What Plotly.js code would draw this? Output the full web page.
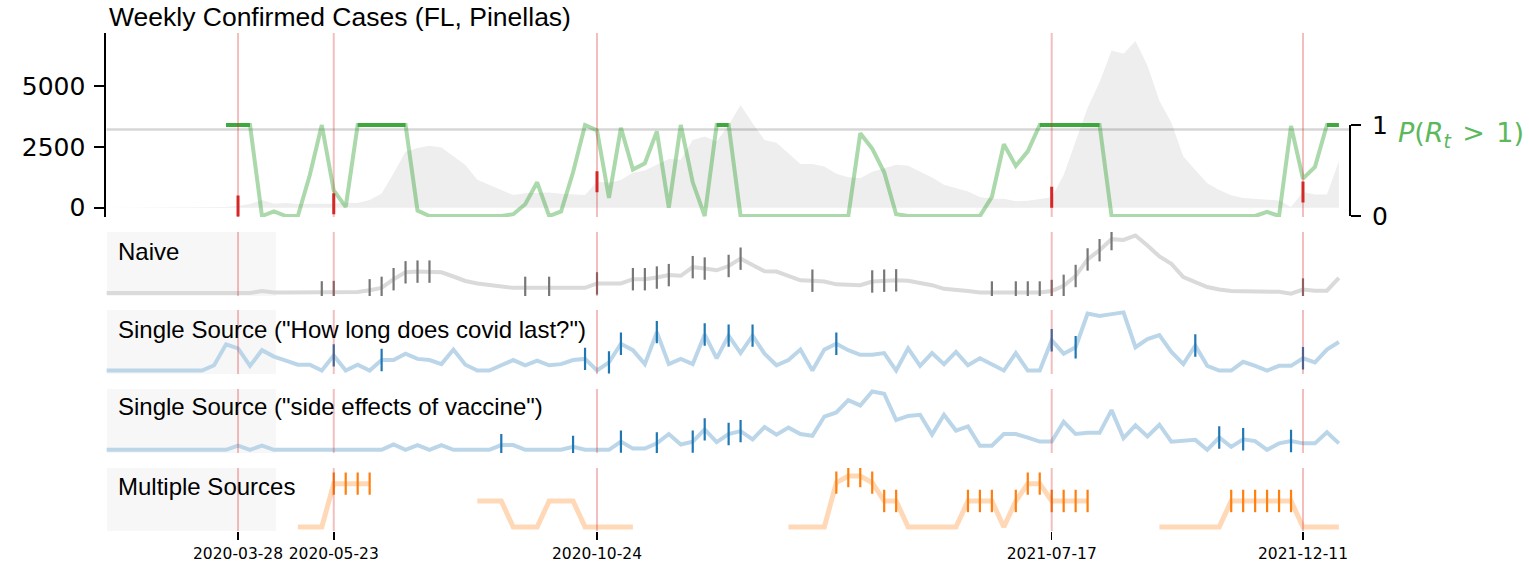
<!DOCTYPE html>
<html><head><meta charset="utf-8">
<script src="https://cdn.plot.ly/plotly-3.0.1.min.js"></script>
<style>html,body{margin:0;padding:0;background:#fff}#chart{width:1529px;height:570px}</style>
</head><body><div id="chart"></div>
<script>
// ---------- data ----------
const START = '2020-01-11';          // first weekly observation
const X_END = '2022-01-07 12:00';    // right end of the time axis
const N_WEEKS = 104;
const eventDates = ['2020-03-28','2020-05-23','2020-10-24','2021-07-17','2021-12-11'];
const eventWeeks = [11, 19, 41, 79, 100];
const THRESH = 0.95;

const title = 'Weekly Confirmed Cases (FL, Pinellas)';
const rowLabels = ['Naive', 'Single Source ("How long does covid last?")',
                   'Single Source ("side effects of vaccine")', 'Multiple Sources'];

const cases = [0,0,0,0,0,0,0,0,5,10,
 30,70,150,320,160,190,150,160,150,160,
 200,190,320,580,1420,2300,2450,2540,2470,2100,
 1750,1150,930,730,520,590,620,620,570,550,
 520,1070,1030,1140,1440,1530,1760,2000,1970,2780,
 2920,2720,3400,4220,3470,2780,2670,2240,1800,1800,
 1690,1390,1250,1210,1480,1620,1760,1720,1480,1240,
 940,800,670,440,370,370,260,290,345,430,
 1340,2730,4110,5150,6460,6320,6850,5840,4390,3490,
 2100,1550,1000,730,510,400,370,350,300,30,
 650,540,540,1900];

const pRt = [null,null,null,null,null,null,null,null,null,null,
 1,1,1,0,0.05,0,0,0.45,1,0.28,
 0.1,1,1,1,1,1,0.06,0,0,0,
 0,0,0,0,0.02,0.13,0.37,0,0.05,0.48,
 1,0.94,0.2,0.97,0.51,0.58,0.93,0.09,1,0.37,
 0,1,1,0,0,0,0,0,0,0,
 0,0,0,0.91,0.74,0.48,0.02,0,0,0,
 0,0,0,0,0.21,0.79,0.55,0.71,1,1,
 1,1,1,1,0,0,0,0,0,0,
 0,0,0,0,0,0,0,0.045,0,0.99,
 0.41,0.54,1,1];

const naive = [1,1,1,1,1,1,1,1,1,1,
 1,1,1,3.3,1.7,1.7,1.7,1.7,1.7,2.1,
 2.1,2.1,4.1,6.9,16.8,24.7,25.5,25.5,24.7,19.9,
 14.8,12,10.4,8.9,6.9,6.9,6.9,6.9,6.9,6.9,
 6.9,12,12,12,16.8,16.8,18.7,21.5,20.7,30.6,
 29,27,31.9,40.3,33.1,26,25.6,20.5,15.5,15.1,
 14.2,10.9,10,10,14.2,15.1,15.5,15.1,12.5,10,
 5.8,5,3.3,1.6,1.6,1.6,1.6,1.6,1.6,3.3,
 9.2,20.5,39.4,50,62.6,61.7,66.8,55.4,42.8,34.4,
 19.3,13.4,7.9,5,3.3,2.9,2.9,2.9,2.4,0.3,
 5,3.7,3.7,18.4];
const naiveAlerts = [18,19,22,23,24,25,26,27,35,37,41,44,45,46,47,49,50,52,53,59,64,65,66,74,76,77,78,79,80,81,82,83,84,100];

const covidLast = [0,0,0,0,0,0,0,0,0,9,
 45,38,8,35,24,17,10,10,0,26,
 0,10,0,18,18,29,20,18,11,36,
 10,0,0,9,18,9,17,9,11,18,
 20,0,14,46,35,11,66,11,20,11,
 62,21,60,30,60,29,9,18,36,0,
 36,46,35,27,27,30,0,38,8,30,
 11,32,9,21,11,0,30,0,0,52,
 29,40,98,94,97,100,40,54,61,32,
 11,43,8,0,0,15,8,0,8,8,
 21,14,36,49];
const covidLastAlerts = [19,23,40,42,43,46,50,52,54,61,79,81,91,100];

const sideEffects = [0,0,0,0,0,0,0,0,0,0,
 0,7,0,7,0,0,0,0,0,0,
 0,0,0,0,9,0,8,0,8,0,
 0,0,0,8,8,0,0,0,0,5,
 0,0,0,14,2,2,11,27,9,14,
 35,13,27,32,18,39,26,38,27,24,
 57,64,85,76,100,96,51,58,60,26,
 60,33,40,7,7,27,27,21,14,14,
 48,27,29,29,68,20,42,23,43,14,
 15,17,0,21,5,18,15,0,11,15,
 11,11,30,11];
const sideEffectsAlerts = [33,39,43,46,49,50,52,53,93,95,99];

const N = null;
const multi = [N,N,N,N,N,N,N,N,N,N,N,N,N,N,N,N,
 0,0,0,85,85,85,85,
 N,N,N,N,N,N,N,N,
 51,51,51,0,0,0,51,51,51,0,0,0,0,0,
 N,N,N,N,N,N,N,N,N,N,N,N,
 0,0,0,0,87,100,100,87,51,51,0,0,0,0,0,51,51,51,0,51,85,85,51,51,51,51,
 N,N,N,N,N,
 0,0,0,0,0,0,51,51,51,51,51,51,0,0,0,0];
const multiAlerts = [19,20,21,22,61,62,63,64,65,66,72,73,74,76,77,78,79,80,81,82,94,95,96,97,98,99];

// ---------- helpers ----------
const W = 1529, H = 570;
const px = x => x / W;
const py = y => 1 - y / H;
const dates = [];
{ const d0 = Date.parse(START + 'T00:00:00Z');
  for (let i = 0; i < N_WEEKS; i++) dates.push(new Date(d0 + i * 7 * 864e5).toISOString().slice(0, 10)); }

const X0 = px(106.4), X1 = px(1350);
const TICK_FONT = 'DejaVu Sans';
const LABEL_FONT = 'Liberation Sans, Arial, sans-serif';

// P(Rt>1) strong segments: consecutive weeks above threshold
const pDark = pRt.map((v, i) => {
  if (v === null || v < 0.98) return null;
  const prev = i > 0 ? pRt[i - 1] : null, next = i < pRt.length - 1 ? pRt[i + 1] : null;
  return ((prev !== null && prev >= 0.98) || (next !== null && next >= 0.98)) ? v : null;
});

const traces = [];
traces.push({x: dates, y: cases, xaxis: 'x', yaxis: 'y', mode: 'lines', fill: 'tozeroy',
  fillcolor: '#eeeeee', line: {width: 0, color: '#eeeeee'}, hoverinfo: 'skip'});
traces.push({x: [START, X_END], y: [THRESH, THRESH], xaxis: 'x', yaxis: 'y2', mode: 'lines',
  line: {color: 'rgba(0,0,0,0.16)', width: 2.5}, hoverinfo: 'skip'});
traces.push({x: dates, y: pRt, xaxis: 'x', yaxis: 'y2', mode: 'lines', connectgaps: false,
  line: {color: 'rgba(44,160,44,0.4)', width: 4}, hoverinfo: 'skip'});
traces.push({x: dates, y: pDark, xaxis: 'x', yaxis: 'y2', mode: 'lines', connectgaps: false,
  line: {color: 'rgba(44,160,44,0.85)', width: 4}, hoverinfo: 'skip'});
traces.push({x: eventWeeks.map(i => dates[i]), y: eventWeeks.map(i => cases[i]), xaxis: 'x', yaxis: 'y',
  mode: 'markers', marker: {symbol: 'line-ns-open', size: 15, color: '#d62728', line: {width: 3, color: '#d62728'}},
  hoverinfo: 'skip'});

function row(vals, alerts, yax, lineColor, tickColor, lw) {
  traces.push({x: dates, y: vals, xaxis: 'x', yaxis: yax, mode: 'lines', connectgaps: false,
    line: {color: lineColor, width: lw}, hoverinfo: 'skip'});
  traces.push({x: alerts.map(i => dates[i]), y: alerts.map(i => vals[i]), xaxis: 'x', yaxis: yax,
    mode: 'markers', marker: {symbol: 'line-ns-open', size: 16, color: tickColor, line: {width: 2.2, color: tickColor}},
    hoverinfo: 'skip'});
}
row(naive, naiveAlerts, 'y3', '#dadada', '#777777', 4);
row(covidLast, covidLastAlerts, 'y4', '#bcd6e9', '#1f77b4', 4);
row(sideEffects, sideEffectsAlerts, 'y5', '#bcd6e9', '#1f77b4', 4);
row(multi, multiAlerts, 'y6', '#ffd9b7', '#ff7f0e', 5);

// ---------- shapes ----------
const shapes = [];
const rowAxes = ['y3', 'y4', 'y5', 'y6'];
rowAxes.forEach(a => shapes.push({type: 'rect', xref: 'paper', yref: a + ' domain', x0: px(107), x1: px(276),
  y0: 0, y1: 1, fillcolor: '#f7f7f7', line: {width: 0}, layer: 'below'}));
['y', ...rowAxes].forEach(a => eventDates.forEach(d => shapes.push({type: 'line', xref: 'x', yref: a + ' domain',
  x0: d, x1: d, y0: 0, y1: 1, line: {color: 'rgba(214,39,40,0.3)', width: 2}, layer: 'above'})));
shapes.push({type: 'line', xref: 'paper', yref: 'y2', x0: X1, x1: X1, y0: 0, y1: 1,
  line: {color: '#000', width: 2}});

// ---------- annotations ----------
const annotations = [
  {text: title, xref: 'paper', yref: 'paper', x: px(107), y: py(17), xanchor: 'left', yanchor: 'middle',
   showarrow: false, font: {family: LABEL_FONT, size: 26.5, color: '#000'}},
  {text: '<i>P</i>(<i>R<sub>t</sub></i>&#8202; &gt; &#8202;1)', xref: 'paper', yref: 'paper', x: px(1396), y: py(134),
   xanchor: 'left', yanchor: 'middle', showarrow: false, font: {family: TICK_FONT, size: 27, color: '#5cb85c'}}
];
const labelPos = [0.69, 0.70, 0.72, 0.71];
rowAxes.forEach((a, k) => annotations.push({text: rowLabels[k], xref: 'paper', yref: a + ' domain',
  x: px(116), y: labelPos[k], xanchor: 'left', yanchor: 'middle', showarrow: false,
  font: {family: LABEL_FONT, size: 24, color: '#000'}}));

const hiddenY = (dom, rng) => ({domain: dom, range: rng, anchor: 'x', showgrid: false, zeroline: false,
  showline: false, showticklabels: false, ticks: '', fixedrange: true});

const layout = {
  width: W, height: H, margin: {l: 0, r: 0, t: 0, b: 0},
  paper_bgcolor: '#ffffff', plot_bgcolor: 'rgba(0,0,0,0)', showlegend: false,
  xaxis: {domain: [X0, X1], range: [START, X_END], type: 'date', anchor: 'y6',
    tickmode: 'array', tickvals: eventDates, ticktext: eventDates, ticks: 'outside', ticklen: 8, tickwidth: 1.5,
    tickcolor: '#000', showgrid: false, zeroline: false, showline: false,
    tickfont: {family: TICK_FONT, size: 15.5, color: '#000'}},
  yaxis: {domain: [py(217), py(33)], range: [-382, 7177], anchor: 'x', tickmode: 'array',
    tickvals: [0, 2500, 5000], ticktext: ['0', '2500', '5000'], ticks: 'outside', ticklen: 10, tickwidth: 2,
    tickcolor: '#000', showline: true, linewidth: 2, linecolor: '#000', showgrid: false, zeroline: false,
    ticklabelstandoff: 4, tickfont: {family: TICK_FONT, size: 25, color: '#000'}},
  yaxis2: {overlaying: 'y', side: 'right', anchor: 'x', range: [-0.011, 2.011], tickmode: 'array',
    tickvals: [0, 1], ticktext: ['0', '1'], ticks: 'outside', ticklen: 10, tickwidth: 2, tickcolor: '#000',
    showline: false, showgrid: false, zeroline: false, ticklabelstandoff: 6,
    tickfont: {family: TICK_FONT, size: 25, color: '#000'}},
  yaxis3: hiddenY([py(296), py(232)], [-2.4, 70.8]),
  yaxis4: hiddenY([py(374), py(310)], [-6.0, 104.1]),
  yaxis5: hiddenY([py(453), py(389)], [-5.5, 104.2]),
  yaxis6: hiddenY([py(531), py(468)], [-7.8, 115.7]),
  shapes: shapes, annotations: annotations
};

Plotly.newPlot('chart', traces, layout, {displayModeBar: false, staticPlot: true});
</script></body></html>
